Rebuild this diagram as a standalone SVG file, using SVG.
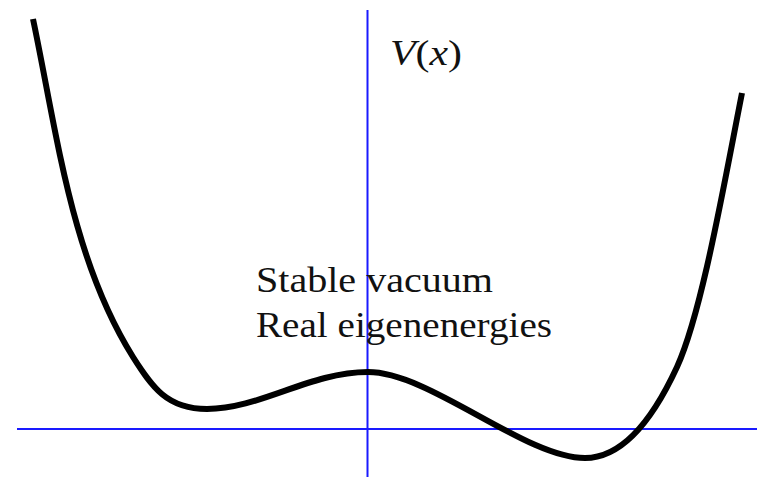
<svg xmlns="http://www.w3.org/2000/svg" width="758" height="477" viewBox="0 0 758 477">
  <style>
    .axis { stroke: #1a1aff; stroke-width: 2; fill: none; }
    .curve { stroke: #000; stroke-width: 6; fill: none; stroke-linejoin: round; }
    .lbl { font-family: "Liberation Serif", "DejaVu Serif", serif; font-size: 36px; fill: #111; }
  </style>
  <rect width="758" height="477" fill="#fff"/>
  <g id="axes">
    <line class="axis" x1="17" y1="429" x2="757" y2="429"/>
    <line class="axis" x1="367.5" y1="10" x2="367.5" y2="477"/>
  </g>
  <g id="potential">
    <path class="curve" d="M33,19 C57,133 71,258 133,357 C152,387 167,409 207,409 C260,409 310,372 368,372 C430,372 525,458 585,458 C628,458 659,406 677,367 C702,312 724,184 742,93"/>
  </g>
  <g id="labels">
    <text class="lbl" x="390" y="65" textLength="72" lengthAdjust="spacingAndGlyphs"><tspan font-style="italic">V</tspan>(<tspan font-style="italic">x</tspan>)</text>
    <text class="lbl" x="256" y="292" textLength="237" lengthAdjust="spacingAndGlyphs">Stable vacuum</text>
    <text class="lbl" x="256" y="337" textLength="296" lengthAdjust="spacingAndGlyphs">Real eigenenergies</text>
  </g>
</svg>
